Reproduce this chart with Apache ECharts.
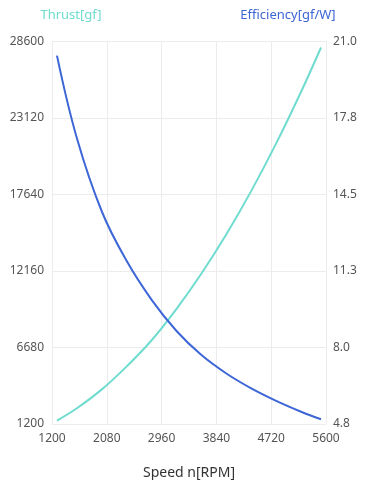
<!DOCTYPE html>
<html>
<head>
<meta charset="utf-8">
<script src="https://cdn.jsdelivr.net/npm/echarts@6/dist/echarts.min.js"></script>
<style>
  html, body { margin: 0; padding: 0; background: #fff; }
  #chart { width: 366px; height: 480px; }
</style>
</head>
<body>
<div id="chart"></div>
<script>
// speed in RPM
var speed = [1280, 1600, 2000, 2400, 2800, 3200, 3600, 4000, 4400, 4800, 5200, 5520];
// thrust in gf (left axis)
var thrust = [1450, 2330, 3680, 5330, 7200, 9450, 11980, 14790, 17900, 21300, 25000, 28170];
// efficiency in gf/W (right axis)
var efficiency = [20.4, 16.9, 13.8, 11.7, 10.06, 8.74, 7.72, 6.94, 6.31, 5.78, 5.32, 5.0];

var cyan = '#6fdccf';
var blue = '#3d66d6';
var gridColor = '#ececec';
var font = 'Noto Sans';

function pairs(xs, ys) {
  return xs.map(function (x, i) { return [x, ys[i]]; });
}

var chart = echarts.init(document.getElementById('chart'));
var option = {
  animation: false,
  grid: { left: 52, right: 40, top: 41.5, bottom: 56, outerBoundsMode: 'none' },
  xAxis: {
    type: 'value',
    min: 1200,
    max: 5600,
    interval: 880,
    name: 'Speed n[RPM]',
    nameLocation: 'middle',
    nameGap: 42,
    nameTextStyle: { color: '#333', fontSize: 14, fontFamily: font },
    axisLine: { lineStyle: { color: gridColor } },
    axisTick: { show: false },
    axisLabel: {
      color: '#555', fontSize: 12, fontFamily: font, margin: 9,
      formatter: function (v) { return String(v); }
    },
    splitLine: { lineStyle: { color: gridColor } }
  },
  yAxis: [
    {
      type: 'value',
      min: 1200,
      max: 28600,
      interval: 5480,
      name: 'Thrust[gf]',
      nameLocation: 'end',
      nameGap: 20,
      nameTextStyle: { color: cyan, fontSize: 13, fontFamily: font, padding: [0, 0, 0, 38] },
      axisLine: { show: true, lineStyle: { color: gridColor } },
      axisTick: { show: false },
      axisLabel: {
        color: '#555', fontSize: 12, fontFamily: font, margin: 8,
        formatter: function (v) { return String(v); }
      },
      splitLine: { lineStyle: { color: gridColor } }
    },
    {
      type: 'value',
      min: 4.8,
      max: 21.0,
      interval: 3.24,
      name: 'Efficiency[gf/W]',
      nameLocation: 'end',
      nameGap: 20,
      nameTextStyle: { color: blue, fontSize: 13, fontFamily: font, padding: [0, 76, 0, 0] },
      axisLine: { show: true, lineStyle: { color: gridColor } },
      axisTick: { show: false },
      axisLabel: {
        color: '#555', fontSize: 12, fontFamily: font, margin: 7,
        formatter: function (v) { return v.toFixed(1); }
      },
      splitLine: { show: false }
    }
  ],
  series: [
    {
      name: 'Thrust[gf]',
      type: 'line',
      yAxisIndex: 0,
      smooth: 0.4,
      showSymbol: false,
      data: pairs(speed, thrust),
      lineStyle: { color: cyan, width: 2 },
      itemStyle: { color: cyan }
    },
    {
      name: 'Efficiency[gf/W]',
      type: 'line',
      yAxisIndex: 1,
      smooth: 0.4,
      showSymbol: false,
      data: pairs(speed, efficiency),
      lineStyle: { color: blue, width: 2 },
      itemStyle: { color: blue }
    }
  ]
};
chart.setOption(option);
</script>
</body>
</html>
